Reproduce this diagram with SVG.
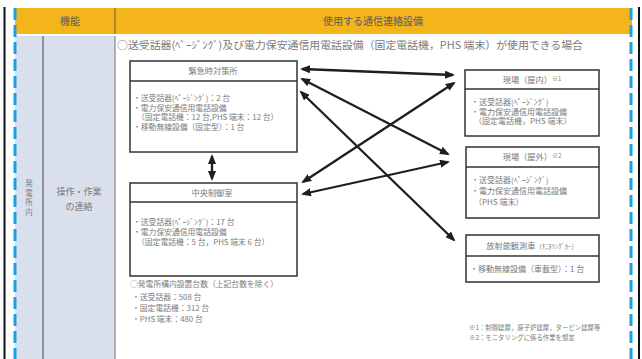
<svg xmlns="http://www.w3.org/2000/svg" width="642" height="359" viewBox="0 0 642 359">
<style>
text{font-family:"Noto Sans CJK JP","Noto Sans",sans-serif;fill:#7a7a7a}
.hd{font-size:10px;fill:#5b5b5b;text-anchor:middle}
.bx{fill:#fff;stroke:#333;stroke-width:1.5}
.dv{stroke:#333;stroke-width:1.3}
.tt{font-size:8.2px;text-anchor:middle}
.bl{font-size:7.8px}
.br{font-size:8px}
.fn{font-size:6.4px}
.cn{stroke:#1e1e1e;stroke-width:2.3;fill:none;marker-start:url(#ah);marker-end:url(#ah)}
</style>
<defs>
<marker id="ah" viewBox="0 0 10 8" refX="8" refY="4" markerWidth="10" markerHeight="8" markerUnits="userSpaceOnUse" orient="auto-start-reverse">
<path d="M0,0 L10,4 L0,8 z" fill="#1e1e1e"/>
</marker>
</defs>
<rect width="642" height="359" fill="#fff"/>
<g id="table">
<rect x="15" y="8" width="617" height="26" fill="#f4b41c"/>
<line x1="115" y1="8" x2="115" y2="34" stroke="#6b5a30" stroke-width="1"/>
<text class="hd" x="70" y="24.5">機能</text>
<text class="hd" x="373" y="24.5">使用する通信連絡設備</text>
<rect x="15" y="36" width="100" height="323" fill="#d9e0ec"/>
<line x1="43" y1="36" x2="43" y2="359" stroke="#444" stroke-width="1"/>
<line x1="115" y1="36" x2="115" y2="359" stroke="#9a9a9a" stroke-width="1.5"/>
<line x1="4.5" y1="7" x2="4.5" y2="359" stroke="#111" stroke-width="2"/>
<line x1="639" y1="7" x2="639" y2="359" stroke="#111" stroke-width="2"/>
<line x1="15" y1="8" x2="15" y2="359" stroke="#1ba1e2" stroke-width="3" stroke-dasharray="12 5"/>
<line x1="631" y1="8" x2="631" y2="359" stroke="#1ba1e2" stroke-width="3" stroke-dasharray="12 5"/>
<g font-size="7.5" text-anchor="middle">
<text x="29" y="186">発</text>
<text x="29" y="195.5">電</text>
<text x="29" y="205">所</text>
<text x="29" y="214.5">内</text>
</g>
<text x="79" y="195" font-size="9" text-anchor="middle">操作・作業</text>
<text x="79" y="210" font-size="9" text-anchor="middle">の連絡</text>
<text x="117" y="49" font-size="10.5" textLength="466" lengthAdjust="spacingAndGlyphs">○送受話器(ﾍﾟｰｼﾞﾝｸﾞ)及び電力保安通信用電話設備（固定電話機，PHS 端末）が使用できる場合</text>
</g>
<g id="node-kinkyu">
<rect class="bx" x="130" y="61" width="167" height="91"/>
<line class="dv" x1="130" y1="81" x2="297" y2="81"/>
<text class="tt" x="213" y="74">緊急時対策所</text>
<text class="bl" x="133" y="101">・送受話器(ﾍﾟｰｼﾞﾝｸﾞ)：2 台</text>
<text class="bl" x="133" y="110.5">・電力保安通信用電話設備</text>
<text class="bl" x="137" y="120">（固定電話機：12 台,PHS 端末：12 台）</text>
<text class="bl" x="133" y="129.5">・移動無線設備（固定型）：1 台</text>
</g>
<g id="node-chuo">
<rect class="bx" x="130" y="183" width="167" height="93"/>
<line class="dv" x1="130" y1="202" x2="297" y2="202"/>
<text class="tt" x="212" y="196">中央制御室</text>
<text class="bl" x="133" y="225">・送受話器(ﾍﾟｰｼﾞﾝｸﾞ)：17 台</text>
<text class="bl" x="133" y="235">・電力保安通信用電話設備</text>
<text class="bl" x="137" y="245">（固定電話機：5 台，PHS 端末 6 台）</text>
</g>
<g id="note-count">
<text class="bl" x="130" y="287">○発電所構内設置台数（上記台数を除く）</text>
<text class="bl" x="132" y="300">・送受話器：508 台</text>
<text class="bl" x="132" y="311">・固定電話機：312 台</text>
<text class="bl" x="132" y="322">・PHS 端末：480 台</text>
</g>
<g id="node-okunai">
<rect class="bx" x="465" y="70" width="134" height="66"/>
<line class="dv" x1="465" y1="89" x2="599" y2="89"/>
<text class="tt" x="532" y="83">現場（屋内）<tspan font-size="6" dy="-2">※1</tspan></text>
<text class="br" x="471" y="105">・送受話器(ﾍﾟｰｼﾞﾝｸﾞ)</text>
<text class="br" x="471" y="114.5">・電力保安通信用電話設備</text>
<text class="br" x="474" y="124">（固定電話機，PHS 端末）</text>
</g>
<g id="node-okugai">
<rect class="bx" x="466" y="147" width="133" height="71"/>
<line class="dv" x1="466" y1="167" x2="599" y2="167"/>
<text class="tt" x="532" y="160">現場（屋外）<tspan font-size="6" dy="-2">※2</tspan></text>
<text class="br" x="471" y="183">・送受話器(ﾍﾟｰｼﾞﾝｸﾞ)</text>
<text class="br" x="471" y="194">・電力保安通信用電話設備</text>
<text class="br" x="474" y="204.5">（PHS 端末）</text>
</g>
<g id="node-monitoring">
<rect class="bx" x="466" y="235" width="133" height="47"/>
<line class="dv" x1="466" y1="256" x2="599" y2="256"/>
<text class="tt" x="532" y="248.5">放射能観測車<tspan font-size="6.5">（ﾓﾆﾀﾘﾝｸﾞｶｰ）</tspan></text>
<text class="br" x="470" y="271.5">・移動無線設備（車載型）：1 台</text>
</g>
<g id="footnotes">
<text class="fn" x="469" y="330">※1：制御建屋，原子炉建屋，タービン建屋等</text>
<text class="fn" x="469" y="340">※2：モニタリングに係る作業を想定</text>
</g>
<g id="connectors">
<line class="cn" x1="302" y1="69" x2="453" y2="75"/>
<line class="cn" x1="302" y1="79" x2="448" y2="154"/>
<line class="cn" x1="301" y1="92" x2="454" y2="240"/>
<line class="cn" x1="303" y1="182" x2="454" y2="83"/>
<line class="cn" x1="303" y1="194" x2="448" y2="162"/>
<line class="cn" x1="212" y1="156" x2="212" y2="179"/>
</g>
</svg>
